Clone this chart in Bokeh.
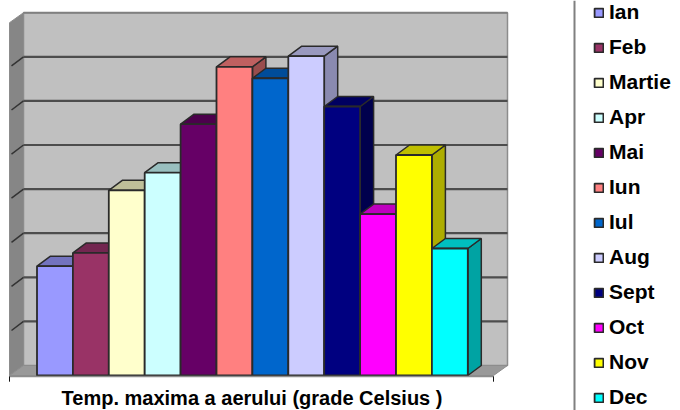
from bokeh.plotting import figure
from bokeh.models import Legend, LegendItem, Label, Range1d
from bokeh.embed import file_html
from bokeh.resources import INLINE

months = ["Ian", "Feb", "Martie", "Apr", "Mai", "Iun", "Iul", "Aug", "Sept", "Oct", "Nov", "Dec"]
temps = [12.4, 13.9, 21.0, 23.0, 28.5, 35.0, 33.7, 36.2, 30.5, 18.3, 25.0, 14.4]
front_colors = ["#9999FF", "#993366", "#FFFFCC", "#CCFFFF", "#660066", "#FF8080",
                "#0066CC", "#CCCCFF", "#000080", "#FF00FF", "#FFFF00", "#00FFFF"]
top_colors = ["#7373BF", "#732650", "#BFBF99", "#99BFBF", "#4C004C", "#BF6060",
              "#004C99", "#9999BF", "#000060", "#BF00BF", "#BFBF00", "#00BFBF"]
side_colors = ["#666699", "#5C1F3D", "#99997A", "#7A9999", "#3D003D", "#994D4D",
               "#003D7A", "#8A8AB0", "#00004D", "#990099", "#ADAD00", "#00A3A3"]
grid_values = [5, 10, 15, 20, 25, 30, 35]
axis_max = 40
title_text = "Temp. maxima a aerului (grade Celsius )"

W, H = 680, 410
PX_X = 35.9        # pixels per bar
PX_Y = 8.82        # pixels per degree
X0_PAGE, Y0_PAGE = 36.5, 375.0   # page position of first bar / zero line
DX = 13.5 / PX_X   # 3-D depth, in bar widths
DY = 10.0 / PX_Y   # 3-D depth, in degrees
BX = 14.0 / PX_X   # wall depth
LEFT = (9 - X0_PAGE) / PX_X
RIGHT = (493 - X0_PAGE) / PX_X

p = figure(width=W, height=H, output_backend="svg", toolbar_location=None,
           x_range=Range1d((0 - X0_PAGE) / PX_X, (W - X0_PAGE) / PX_X),
           y_range=Range1d((Y0_PAGE - H) / PX_Y, Y0_PAGE / PX_Y),
           min_border=0, outline_line_color=None, x_axis_type=None, y_axis_type=None,
           background_fill_color="white", border_fill_color="white")
p.grid.visible = False

# walls and floor
p.patch([LEFT + BX, RIGHT + BX, RIGHT + BX, LEFT + BX], [DY, DY, axis_max + DY, axis_max + DY],
        fill_color="#C0C0C0", line_color="#8C8C8C", line_width=1.5)
p.patch([LEFT, LEFT + BX, LEFT + BX, LEFT], [0, DY, axis_max + DY, axis_max],
        fill_color="#868686", line_color="#8C8C8C", line_width=1)
p.patch([LEFT, LEFT + BX, RIGHT + BX, RIGHT], [0, DY, DY, 0],
        fill_color="#999999", line_color="#8C8C8C", line_width=1)

# gridlines, across the left wall and the back wall
grid_color = "#4D4D4D"
p.segment([LEFT + BX] * len(grid_values), [v + DY for v in grid_values],
          [RIGHT + BX] * len(grid_values), [v + DY for v in grid_values],
          line_color=grid_color, line_width=2.2)
p.segment([LEFT + 2 / PX_X] * len(grid_values), [v + 0.1 for v in grid_values],
          [LEFT + BX] * len(grid_values), [v + DY for v in grid_values],
          line_color="#333333", line_width=1.5)
# top edge of the back wall
p.segment([LEFT + BX], [axis_max + DY], [RIGHT + BX], [axis_max + DY], line_color="#808080", line_width=2)

# bars, painted from left to right
outline = "#2A2A2A"
items = []
for i, (m, v) in enumerate(zip(months, temps)):
    x0, x1 = i, i + 1
    p.patch([x1, x1 + DX, x1 + DX, x1], [0, DY, v + DY, v],
            fill_color=side_colors[i], line_color=outline, line_width=1.5)
    p.patch([x0, x0 + DX, x1 + DX, x1], [v, v + DY, v + DY, v],
            fill_color=top_colors[i], line_color=outline, line_width=1.5)
    r = p.quad(left=[x0], right=[x1], bottom=[0], top=[v],
               fill_color=front_colors[i], line_color=outline, line_width=1.8)
    items.append(LegendItem(label=m, renderers=[r]))

# category axis line and its end ticks
p.segment([LEFT], [-0.12], [RIGHT], [-0.12], line_color="#8C8C8C", line_width=1.5)
p.segment([LEFT, RIGHT], [-0.1, -0.1], [LEFT, RIGHT], [-0.7, -0.7], line_color="#111111", line_width=1)

# legend divider
p.segment([(574 - X0_PAGE) / PX_X], [p.y_range.start], [(574 - X0_PAGE) / PX_X], [p.y_range.end],
          line_color="#808080", line_width=2)

legend = Legend(items=items, location=(593, 1), orientation="vertical",
                background_fill_alpha=0, border_line_color=None,
                padding=0, margin=0, spacing=11, label_height=20,
                glyph_width=11, glyph_height=11, label_standoff=5,
                label_text_font="Liberation Sans", label_text_font_style="bold",
                label_text_font_size="21px", label_text_color="#000000")
p.add_layout(legend, "center")

p.add_layout(Label(x=(251.5 - X0_PAGE) / PX_X, y=(Y0_PAGE - 397) / PX_Y, text=title_text,
                   text_align="center", text_baseline="middle",
                   text_font="Liberation Sans", text_font_style="bold",
                   text_font_size="20px", text_color="#000000"))

open("out.html", "w").write(file_html(p, INLINE))
